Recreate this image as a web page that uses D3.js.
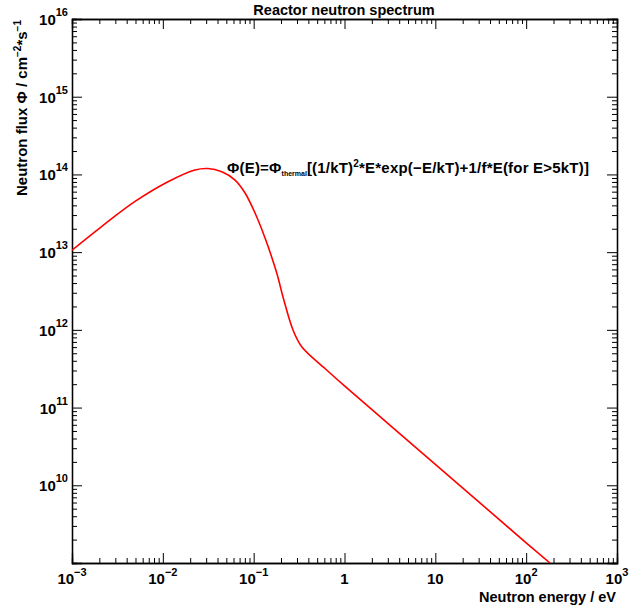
<!DOCTYPE html>
<html>
<head>
<meta charset="utf-8">
<script src="https://cdn.jsdelivr.net/npm/d3@7"></script>
<style>
  body { margin: 0; background: #fff; }
  text { font-family: "Liberation Sans", Arial, sans-serif; font-weight: bold; fill: #000; }
</style>
</head>
<body>
<div id="chart"></div>
<script>
// values
const energy = [0.001, 0.0021, 0.0049, 0.0114, 0.0226, 0.0314, 0.0445, 0.0624, 0.0804, 0.1035,
                0.1334, 0.1795, 0.2104, 0.271, 0.338, 0.61, 1, 10, 100, 183];
const flux = [1.06e13, 2.12e13, 4.46e13, 8.05e13, 1.14e14, 1.19e14, 1.08e14, 8.47e13, 5.77e13, 3.19e13,
              1.52e13, 5.38e12, 2.65e12, 9.95e11, 6.07e11, 3.18e11, 1.9e11, 1.86e10, 1.82e9, 1.0e9];

const xDecades = [1e-3, 1e-2, 1e-1, 1, 10, 100, 1000];
const xTickBase = ["10", "10", "10", "1", "10", "10", "10"];
const xTickSup = ["\u22123", "\u22122", "\u22121", "", "", "2", "3"];
const yDecades = [1e10, 1e11, 1e12, 1e13, 1e14, 1e15, 1e16];
const yTickSup = ["10", "11", "12", "13", "14", "15", "16"];

const width = 631, height = 609;
const margin = { top: 19, right: 14, bottom: 46, left: 72 };
const w = width - margin.left - margin.right, h = height - margin.top - margin.bottom;

const svg = d3.select("#chart").append("svg")
    .attr("width", width)
    .attr("height", height);

const g = svg.append("g").attr("transform", `translate(${margin.left},${margin.top})`);

const x = d3.scaleLog().domain([1e-3, 1e3]).range([0, w]);
const y = d3.scaleLog().domain([1e9, 1e16]).range([h, 0]);

// minor ticks 2..9 in each decade
function minors(lo, hi) {
    let out = [];
    for (let p = lo; p < hi; p++) {
        for (let k = 2; k < 10; k++) out.push(k * Math.pow(10, p));
    }
    return out;
}
const xMinor = minors(-3, 3), yMinor = minors(9, 16);
const xMajor = xDecades, yMajor = [1e9].concat(yDecades);

function tickAxis(axis, vals, size) {
    return axis.tickValues(vals).tickSize(size).tickFormat("");
}

// bottom / top
g.append("g").attr("transform", `translate(0,${h})`).call(tickAxis(d3.axisBottom(x), xMinor, -5));
g.append("g").attr("transform", `translate(0,${h})`).call(tickAxis(d3.axisBottom(x), xMajor, -10));
g.append("g").call(tickAxis(d3.axisTop(x), xMinor, -5));
g.append("g").call(tickAxis(d3.axisTop(x), xMajor, -10));
// left / right
g.append("g").call(tickAxis(d3.axisLeft(y), yMinor, -5));
g.append("g").call(tickAxis(d3.axisLeft(y), yMajor, -10));
g.append("g").attr("transform", `translate(${w},0)`).call(tickAxis(d3.axisRight(y), yMinor, -5));
g.append("g").attr("transform", `translate(${w},0)`).call(tickAxis(d3.axisRight(y), yMajor, -10));

g.selectAll(".domain").attr("stroke", "#000").attr("stroke-width", 1.3);
g.selectAll(".tick line").attr("stroke", "#000");

// x tick labels
xDecades.forEach((v, i) => {
    const t = g.append("text")
        .attr("x", x(v))
        .attr("y", h + 21)
        .attr("text-anchor", "middle")
        .style("font-size", "15px");
    t.append("tspan").text(xTickBase[i]);
    if (xTickSup[i]) t.append("tspan").attr("dy", -8).style("font-size", "11px").text(xTickSup[i]);
});

// y tick labels
yDecades.forEach((v, i) => {
    const t = g.append("text")
        .attr("x", -4)
        .attr("y", y(v) + 6)
        .attr("text-anchor", "end")
        .style("font-size", "15px");
    t.append("tspan").text("10");
    t.append("tspan").attr("dy", -9).style("font-size", "11px").text(yTickSup[i]);
});

// curve
const line = d3.line()
    .x((d, i) => x(energy[i]))
    .y(d => y(d))
    .curve(d3.curveCatmullRom.alpha(0.5));

g.append("clipPath").attr("id", "clip")
    .append("rect").attr("width", w).attr("height", h);

g.append("path")
    .datum(flux)
    .attr("clip-path", "url(#clip)")
    .attr("fill", "none")
    .attr("stroke", "red")
    .attr("stroke-width", 1.6)
    .attr("d", line);

// title
svg.append("text")
    .attr("x", 344)
    .attr("y", 15)
    .attr("text-anchor", "middle")
    .style("font-size", "14.5px")
    .text("Reactor neutron spectrum");

// axis titles
svg.append("text")
    .attr("x", 616)
    .attr("y", 602)
    .attr("text-anchor", "end")
    .style("font-size", "14.5px")
    .text("Neutron energy / eV");

const yl = svg.append("text")
    .attr("transform", "translate(27,20) rotate(-90)")
    .attr("text-anchor", "end")
    .style("font-size", "15px");
yl.append("tspan").text("Neutron flux \u03A6 / cm");
yl.append("tspan").attr("dy", -6).style("font-size", "10px").text("\u22122");
yl.append("tspan").attr("dy", 6).text("*s");
yl.append("tspan").attr("dy", -6).style("font-size", "10px").text("\u22121");

// formula annotation
const f = svg.append("text")
    .attr("x", 227)
    .attr("y", 173)
    .style("font-size", "15px")
    .style("letter-spacing", "0.2px");
f.append("tspan").text("\u03A6(E)=\u03A6");
f.append("tspan").attr("dy", 3).style("font-size", "7px").style("letter-spacing", "0px").text("thermal");
f.append("tspan").attr("dy", -3).text("[(1/kT)");
f.append("tspan").attr("dy", -6).style("font-size", "10px").text("2");
f.append("tspan").attr("dy", 6).text("*E*exp(\u2212E/kT)+1/f*E(for E>5kT)]");
</script>
</body>
</html>
